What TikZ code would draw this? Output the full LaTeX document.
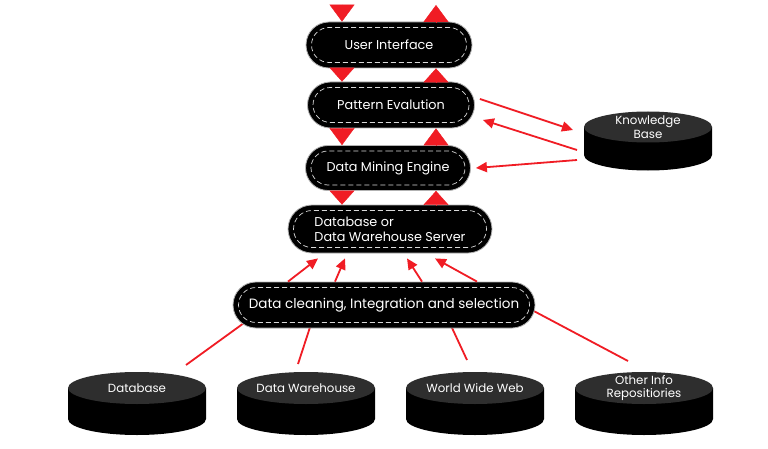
\documentclass[tikz,border=0pt]{standalone}
\usepackage{fontspec}
\setmainfont{Poppins}
\usetikzlibrary{shapes.misc,arrows.meta,calc}
\definecolor{myred}{RGB}{240,28,36}
\definecolor{topgray}{RGB}{46,46,46}
\newcommand\pill[7]{% name, x, y, w, h, font size, text
  \node[box, minimum width=#4pt, minimum height=#5pt, font=\fontsize{#6}{15}\selectfont] (#1) at (#2,#3) {#7};
  \node[innerdash, minimum width={#4pt-11pt}, minimum height={#5pt-11pt}] at (#1) {};
}
\newcommand\drum[7]{% name, cx, ty, rx, ry, h, text
  \fill[black] ({#2-#4},#3) -- ({#2-#4},{#3-#6}) arc[start angle=180,end angle=360,x radius=#4pt,y radius=#5pt] -- ({#2+#4},#3) -- cycle;
  \fill[topgray] (#2,#3) ellipse[x radius=#4pt,y radius=#5pt];
  \node[lbl] (#1) at (#2,#3) {#7};
}
\begin{document}
\begin{tikzpicture}[x=1pt,y=1pt,
  box/.style={rounded rectangle, fill=black, draw=black!30, line width=0.8pt, text=white, inner sep=0pt, align=left},
  innerdash/.style={rounded rectangle, draw=white!85!black, dash pattern=on 5pt off 3pt, line width=0.7pt, inner sep=0pt},
  bigtip/.style={draw=myred, fill=myred, line width=0.4pt, -{Triangle[width=25pt,length=#1]}},
  bigtip/.default=14pt,
  link/.style={draw=myred, line width=1.8pt, -{Triangle[width=10pt,length=11pt]}},
  feed/.style={draw=myred, line width=1.8pt},
  lbl/.style={text=white, font=\fontsize{11.8}{13.5}\selectfont, align=center, inner sep=0pt}
]
\useasboundingbox (0,0) rectangle (768,448);
\fill[white] (0,0) rectangle (768,448);

\coordinate (dcpos) at (384,143);
\drum{db}{137}{60}{69}{16}{31}{Database}
\drum{dw}{306}{60}{69}{16}{31}{Data Warehouse}
\drum{www}{475}{60}{69}{16}{31}{World Wide Web}
\drum{oth}{644}{60}{69}{16}{31}{Other Info\\Repositiories}
\drum{kb}{648}{321}{64}{15.5}{28}{Knowledge\\Base}

% lower feed lines (drawn under the boxes)
\draw[feed] ($(db)+(49,23)$) -- ($(dcpos)+(-129,-10)$);
\draw[feed] ($(dw)+(-8,24)$) -- ($(dcpos)+(-70,-10)$);
\draw[feed] ($(www)+(-8,28)$) -- ($(dcpos)+(62,-10)$);
\draw[feed] ($(oth)+(-16,27)$) -- ($(dcpos)+(146,-4)$);

\pill{ui}{389}{403}{166}{46}{12.8}{User Interface}
\pill{pe}{391}{343}{167}{46}{12.8}{Pattern Evalution}
\pill{dme}{388}{280}{165}{45}{12.8}{Data Mining Engine}
\pill{dbs}{390}{219}{204}{48}{12.8}{Database or\\Data Warehouse Server}
\pill{dc}{384}{143}{302}{46}{13.5}{Data cleaning, Integration and selection}

% big triangles
\coordinate (tl) at (342,443);
\coordinate (tr) at (436,443);
\draw[bigtip=17pt] (tl) -- (tl |- ui.north);
\draw[bigtip=17pt] (tr |- ui.north) -- (tr);
\draw[bigtip] (ui.south -| tl) -- (pe.north -| tl);
\draw[bigtip] (pe.north -| tr) -- (ui.south -| tr);
\draw[bigtip=17pt] (pe.south -| tl) -- (dme.north -| tl);
\draw[bigtip=17pt] (dme.north -| tr) -- (pe.south -| tr);
\draw[bigtip] (dme.south -| tl) -- (dbs.north -| tl);
\draw[bigtip] (dbs.north -| tr) -- (dme.south -| tr);

% knowledge base links
\draw[link] ($(pe.east)+(5,6)$) -- ($(kb)+(-75,-3)$);
\draw[link] ($(kb)+(-71,-23)$) -- ($(pe.east)+(8,-15)$);
\draw[link] ($(kb)+(-71,-33)$) -- ($(dme.east)+(5,0)$);

% cleaning to server
\draw[link] ($(dc.north)+(-96,0)$) -- ($(dbs.south)+(-72,-5)$);
\draw[link] ($(dc.north)+(-49,0)$) -- ($(dbs.south)+(-45,-5)$);
\draw[link] ($(dc.north)+(38,0)$) -- ($(dbs.south)+(17,-5)$);
\draw[link] ($(dc.north)+(93,0)$) -- ($(dbs.south)+(45,-5)$);
\end{tikzpicture}
\end{document}
